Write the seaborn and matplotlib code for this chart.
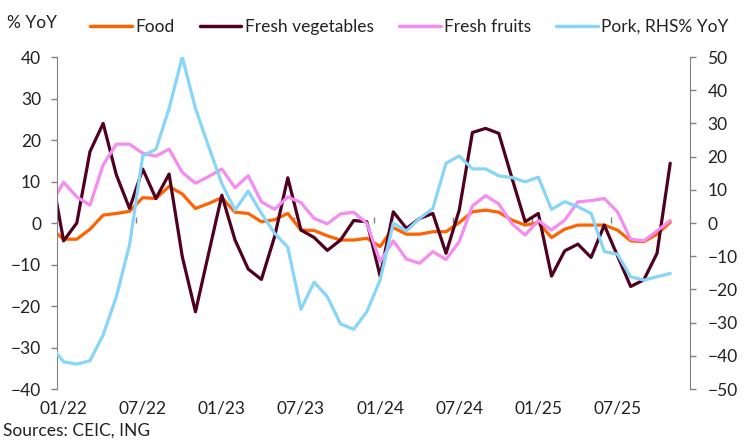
import numpy as np
import pandas as pd
import matplotlib
matplotlib.use("Agg")
import matplotlib.pyplot as plt
from matplotlib.lines import Line2D
import seaborn as sns

# monthly, Dec 2021 (clipped at the left edge) .. Nov 2025
food = [-1.2,
        -3.9, -3.9, -1.5, 1.9, 2.3, 2.8, 6.1, 5.9, 8.8, 7.0, 3.5, 4.7,
        6.1, 2.6, 2.3, 0.3, 0.8, 2.3, -1.7, -1.8, -3.1, -4.1, -4.1, -3.7,
        -5.7, -1.1, -2.7, -2.7, -2.1, -2.1, 0.1, 2.7, 3.1, 2.6, 0.7, -0.5,
        0.1, -3.5, -1.5, -0.5, -0.5, -0.5, -1.7, -4.3, -4.5, -2.7, 0.2]
vegetables = [13.3,
              -4.3, 0.0, 17.2, 24.0, 11.6, 3.5, 13.0, 5.9, 11.8, -8.1, -21.4, -7.3,
              6.7, -4.1, -11.1, -13.6, -3.3, 10.9, -1.7, -3.5, -6.6, -4.1, 0.6, 0.3,
              -12.8, 2.7, -1.3, 1.1, 2.3, -7.3, 3.1, 21.8, 22.8, 21.6, 10.8, 0.3,
              2.3, -12.8, -6.7, -5.1, -8.3, -0.5, -7.9, -15.3, -13.7, -7.3, 14.4]
fruits = [4.4,
          9.8, 6.3, 4.3, 14.0, 19.0, 19.0, 16.8, 16.1, 17.8, 12.2, 9.6, 11.2,
          13.0, 8.5, 11.4, 5.1, 3.3, 6.3, 4.9, 1.1, -0.2, 2.2, 2.6, -0.1,
          -9.3, -4.3, -8.7, -9.7, -6.9, -8.8, -4.5, 4.1, 6.6, 4.6, -0.2, -2.9,
          0.6, -1.7, 0.7, 5.1, 5.4, 5.9, 2.7, -3.9, -4.3, -1.9, 0.6]
pork = [-36.8,
        -41.8, -42.5, -41.5, -33.7, -22.2, -6.6, 20.2, 22.2, 34.5, 50.0, 34.5, 23.0,
        11.9, 3.9, 9.6, 2.9, -3.1, -7.3, -26.0, -17.8, -22.2, -30.4, -32.0, -26.7,
        -17.2, 0.0, -2.4, 1.4, 4.4, 18.0, 20.2, 16.3, 16.3, 14.2, 13.7, 12.4,
        13.8, 4.1, 6.4, 4.9, 2.9, -8.6, -9.4, -16.2, -17.2, -16.2, -15.2]
month_labels = ["01/22", "07/22", "01/23", "07/23", "01/24", "07/24", "01/25", "07/25"]

df = pd.DataFrame({"month": np.arange(-1, len(food) - 1),
                   "Food": food, "Fresh vegetables": vegetables,
                   "Fresh fruits": fruits, "Pork, RHS": pork})

colors = {"Food": "#FF6200", "Fresh vegetables": "#4F0020",
          "Fresh fruits": "#F58CF2", "Pork, RHS": "#88D5FA"}

sns.set_style("white")
plt.rcParams["font.family"] = ["Lato", "DejaVu Sans"]
grey = "#808080"
txt = "#222222"
fs = 12.5

fig = plt.figure(figsize=(7.47, 4.43), dpi=100)
ax = fig.add_axes([57 / 747, 1 - 389 / 443, 633 / 747, 332 / 443])
ax2 = ax.twinx()

for name in ["Food", "Fresh vegetables", "Fresh fruits"]:
    sns.lineplot(data=df, x="month", y=name, ax=ax, color=colors[name], lw=2.3)
sns.lineplot(data=df, x="month", y="Pork, RHS", ax=ax2, color=colors["Pork, RHS"], lw=2.3)

ax.set_xlim(-0.5, 47.5)
ax.set_ylim(-40, 40)
ax2.set_ylim(-50, 50)
ax.set_yticks(np.arange(-40, 41, 10))
ax2.set_yticks(np.arange(-50, 51, 10))
ax.set_xticks(np.arange(0, 48, 6)[:len(month_labels)])
ax.set_xticklabels(month_labels)
ax.set_xlabel("")
ax.set_ylabel("")
ax2.set_ylabel("")

for a in (ax, ax2):
    for s in a.spines.values():
        s.set_visible(False)
ax.spines["left"].set_visible(True)
ax.spines["left"].set_color(grey)
ax2.spines["right"].set_visible(True)
ax2.spines["right"].set_color(grey)

ax.tick_params(axis="y", direction="out", length=4.5, width=1, color=grey,
               labelsize=fs, labelcolor=txt, pad=7, left=True)
ax2.tick_params(axis="y", direction="out", length=4.5, width=1, color=grey,
                labelsize=fs, labelcolor=txt, pad=8, right=True)
ax.tick_params(axis="x", length=0, labelsize=fs, labelcolor=txt, pad=8)

# zero line acting as category axis, with tick marks between categories
sec = ax.secondary_xaxis(0.5)
between = np.arange(5.5, 47, 6)
sec.set_xticks(between, labels=[""] * len(between))
sec.tick_params(axis="x", direction="out", length=4, width=1, color=grey)
sec.spines["bottom"].set_color(grey)
sec.spines["bottom"].set_linewidth(1)
for k in ("top", "left", "right"):
    sec.spines[k].set_visible(False)

handles = [Line2D([], [], color=colors[n], lw=2.5) for n in colors]
labels = ["Food", "Fresh vegetables", "Fresh fruits", "Pork, RHS% YoY"]
fig.legend(handles, labels, loc="center left", bbox_to_anchor=(90 / 747, 1 - 27 / 443),
           ncol=4, frameon=False, borderaxespad=0, borderpad=0, fontsize=fs,
           handlelength=2.4, handletextpad=0.2, columnspacing=1.45, labelcolor=txt)
fig.text(7 / 747, 1 - 23 / 443, "% YoY", fontsize=fs, color=txt, va="center", ha="left")
fig.text(3 / 747, 1 - 431 / 443, "Sources: CEIC, ING", fontsize=fs, color=txt, va="center", ha="left")

fig.savefig("out.png", dpi=100)
